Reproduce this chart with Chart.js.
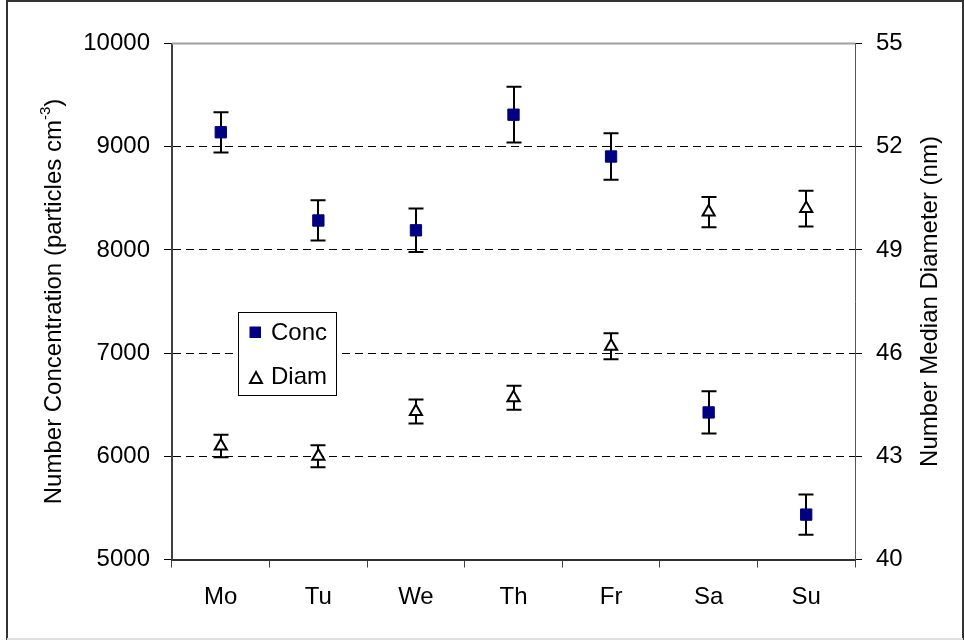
<!DOCTYPE html>
<html>
<head>
<meta charset="utf-8">
<script src="https://cdn.jsdelivr.net/npm/chart.js@4/dist/chart.umd.min.js"></script>
<style>
  html, body { margin: 0; padding: 0; background: #fff; }
  #wrap { position: relative; width: 964px; height: 641px; }
</style>
</head>
<body>
<div id="wrap"><canvas id="c" width="964" height="641"></canvas></div>
<script>
// Weekly pattern of particle number concentration and number median diameter
const days = ['Mo', 'Tu', 'We', 'Th', 'Fr', 'Sa', 'Su'];
const conc = [9140, 8285, 8190, 9310, 8905, 6425, 5435];
const concErr = [195, 195, 210, 270, 225, 205, 195];
const diam = [43.3, 43.0, 44.3, 44.7, 46.2, 50.1, 50.2];
const diamErr = [0.33, 0.32, 0.35, 0.35, 0.38, 0.44, 0.52];
const concTicks = { min: 5000, max: 10000, step: 1000 };
const diamTicks = { min: 40, max: 55, step: 3 };

const FONT = '"Liberation Sans", Arial, sans-serif';

// Vertical error bars with caps, drawn beneath the markers
const errorBars = {
  id: 'errorBars',
  beforeDatasetsDraw(chart) {
    const ctx = chart.ctx;
    const xs = chart.scales.x;
    const sets = [
      { axis: 'yConc', vals: conc, err: concErr },
      { axis: 'yDiam', vals: diam, err: diamErr }
    ];
    ctx.save();
    ctx.strokeStyle = '#000';
    ctx.lineWidth = 2;
    sets.forEach(s => {
      const ys = chart.scales[s.axis];
      s.vals.forEach((v, i) => {
        const px = Math.round(xs.getPixelForValue(i));
        const top = ys.getPixelForValue(v + s.err[i]);
        const bot = ys.getPixelForValue(v - s.err[i]);
        ctx.beginPath();
        ctx.moveTo(px, top); ctx.lineTo(px, bot);
        ctx.moveTo(px - 7.5, top); ctx.lineTo(px + 7.5, top);
        ctx.moveTo(px - 7.5, bot); ctx.lineTo(px + 7.5, bot);
        ctx.stroke();
      });
    });
    ctx.restore();
  }
};

// Plot frame top edge, axis titles, inset legend and outer border
const decorations = {
  id: 'decorations',
  afterDraw(chart) {
    const ctx = chart.ctx;
    const a = chart.chartArea;
    ctx.save();

    // top edge of plot area
    ctx.strokeStyle = '#a0a0a0';
    ctx.lineWidth = 2;
    ctx.beginPath();
    ctx.moveTo(a.left, a.top);
    ctx.lineTo(a.right, a.top);
    ctx.stroke();

    // left axis title with superscript
    const midY = (a.top + a.bottom) / 2;
    ctx.fillStyle = '#000';
    ctx.textBaseline = 'middle';
    ctx.save();
    ctx.translate(54, midY);
    ctx.rotate(-Math.PI / 2);
    const mainTxt = 'Number Concentration (particles cm';
    const supTxt = '-3';
    const endTxt = ')';
    ctx.font = '24px ' + FONT;
    const w1 = ctx.measureText(mainTxt).width;
    const w3 = ctx.measureText(endTxt).width;
    ctx.font = '15px ' + FONT;
    const w2 = ctx.measureText(supTxt).width;
    let x0 = -(w1 + w2 + w3) / 2;
    ctx.textAlign = 'left';
    ctx.font = '24px ' + FONT;
    ctx.fillText(mainTxt, x0, 0);
    ctx.font = '15px ' + FONT;
    ctx.fillText(supTxt, x0 + w1, -8);
    ctx.font = '24px ' + FONT;
    ctx.fillText(endTxt, x0 + w1 + w2, 0);
    ctx.restore();

    // right axis title
    ctx.save();
    ctx.translate(930, midY);
    ctx.rotate(-Math.PI / 2);
    ctx.textAlign = 'center';
    ctx.font = '24px ' + FONT;
    ctx.fillText('Number Median Diameter (nm)', 0, 0);
    ctx.restore();

    // inset legend
    const lx = 238, ly = 312, lw = 98, lh = 83;
    ctx.fillStyle = '#fff';
    ctx.fillRect(lx, ly, lw, lh);
    ctx.strokeStyle = '#000';
    ctx.lineWidth = 1;
    ctx.strokeRect(lx + 0.5, ly + 0.5, lw, lh);
    const ds = chart.data.datasets;
    ctx.fillStyle = '#000080';
    ctx.fillRect(249.5, 326.5, 11.5, 11.5);
    ctx.beginPath();
    ctx.moveTo(256, 372);
    ctx.lineTo(262, 383);
    ctx.lineTo(250, 383);
    ctx.closePath();
    ctx.fillStyle = '#fff';
    ctx.fill();
    ctx.strokeStyle = '#000';
    ctx.lineWidth = 2;
    ctx.stroke();
    ctx.fillStyle = '#000';
    ctx.font = '24px ' + FONT;
    ctx.textAlign = 'left';
    ctx.textBaseline = 'middle';
    ctx.fillText(ds[0].label, 271, 333);
    ctx.fillText(ds[1].label, 271, 377);

    // outer border
    ctx.strokeStyle = '#333';
    ctx.lineWidth = 2;
    ctx.beginPath();
    ctx.moveTo(7, 640);
    ctx.lineTo(7, 1);
    ctx.lineTo(963, 1);
    ctx.lineTo(963, 640);
    ctx.stroke();
    ctx.strokeStyle = '#e0e0e0';
    ctx.beginPath();
    ctx.moveTo(7, 639);
    ctx.lineTo(963, 639);
    ctx.stroke();

    ctx.restore();
  }
};

new Chart(document.getElementById('c'), {
  type: 'line',
  data: {
    labels: days,
    datasets: [
      {
        label: 'Conc',
        data: conc,
        yAxisID: 'yConc',
        showLine: false,
        pointStyle: 'rect',
        pointRadius: 8,
        pointBackgroundColor: '#000080',
        pointBorderColor: '#000080',
        pointBorderWidth: 1
      },
      {
        label: 'Diam',
        data: diam,
        yAxisID: 'yDiam',
        showLine: false,
        pointStyle: 'triangle',
        pointRadius: 7,
        pointBackgroundColor: '#fff',
        pointBorderColor: '#000',
        pointBorderWidth: 2
      }
    ]
  },
  options: {
    responsive: false,
    animation: false,
    layout: { padding: { top: 43.5, left: 0, right: 0, bottom: 0 } },
    plugins: { legend: { display: false }, tooltip: { enabled: false } },
    scales: {
      x: {
        type: 'category',
        offset: true,
        grid: { offset: true, drawOnChartArea: false, tickLength: 8, tickColor: '#404040', tickWidth: 1 },
        border: { color: '#303030', width: 2 },
        ticks: { color: '#000', font: { family: FONT, size: 24 }, padding: 15 },
        afterFit(s) { s.height = 81.5; }
      },
      yConc: {
        position: 'left',
        min: concTicks.min,
        max: concTicks.max,
        ticks: {
          stepSize: concTicks.step,
          color: '#000',
          font: { family: FONT, size: 24 },
          padding: 14,
          callback: v => String(v)
        },
        grid: {
          color: c => (c.tick && c.tick.value > concTicks.min && c.tick.value < concTicks.max) ? '#000' : 'rgba(0,0,0,0)',
          lineWidth: 1,
          tickLength: 8,
          tickColor: '#000',
          tickWidth: 1
        },
        border: { color: '#404040', width: 2, dash: [8, 5] },
        afterFit(s) { s.width = 172; }
      },
      yDiam: {
        position: 'right',
        min: diamTicks.min,
        max: diamTicks.max,
        ticks: {
          stepSize: diamTicks.step,
          color: '#000',
          font: { family: FONT, size: 24 },
          padding: 14,
          callback: v => String(v)
        },
        grid: { drawOnChartArea: false, tickLength: 7, tickColor: '#000', tickWidth: 1 },
        border: { color: '#555', width: 1 },
        afterFit(s) { s.width = 109; }
      }
    }
  },
  plugins: [errorBars, decorations]
});
</script>
</body>
</html>
